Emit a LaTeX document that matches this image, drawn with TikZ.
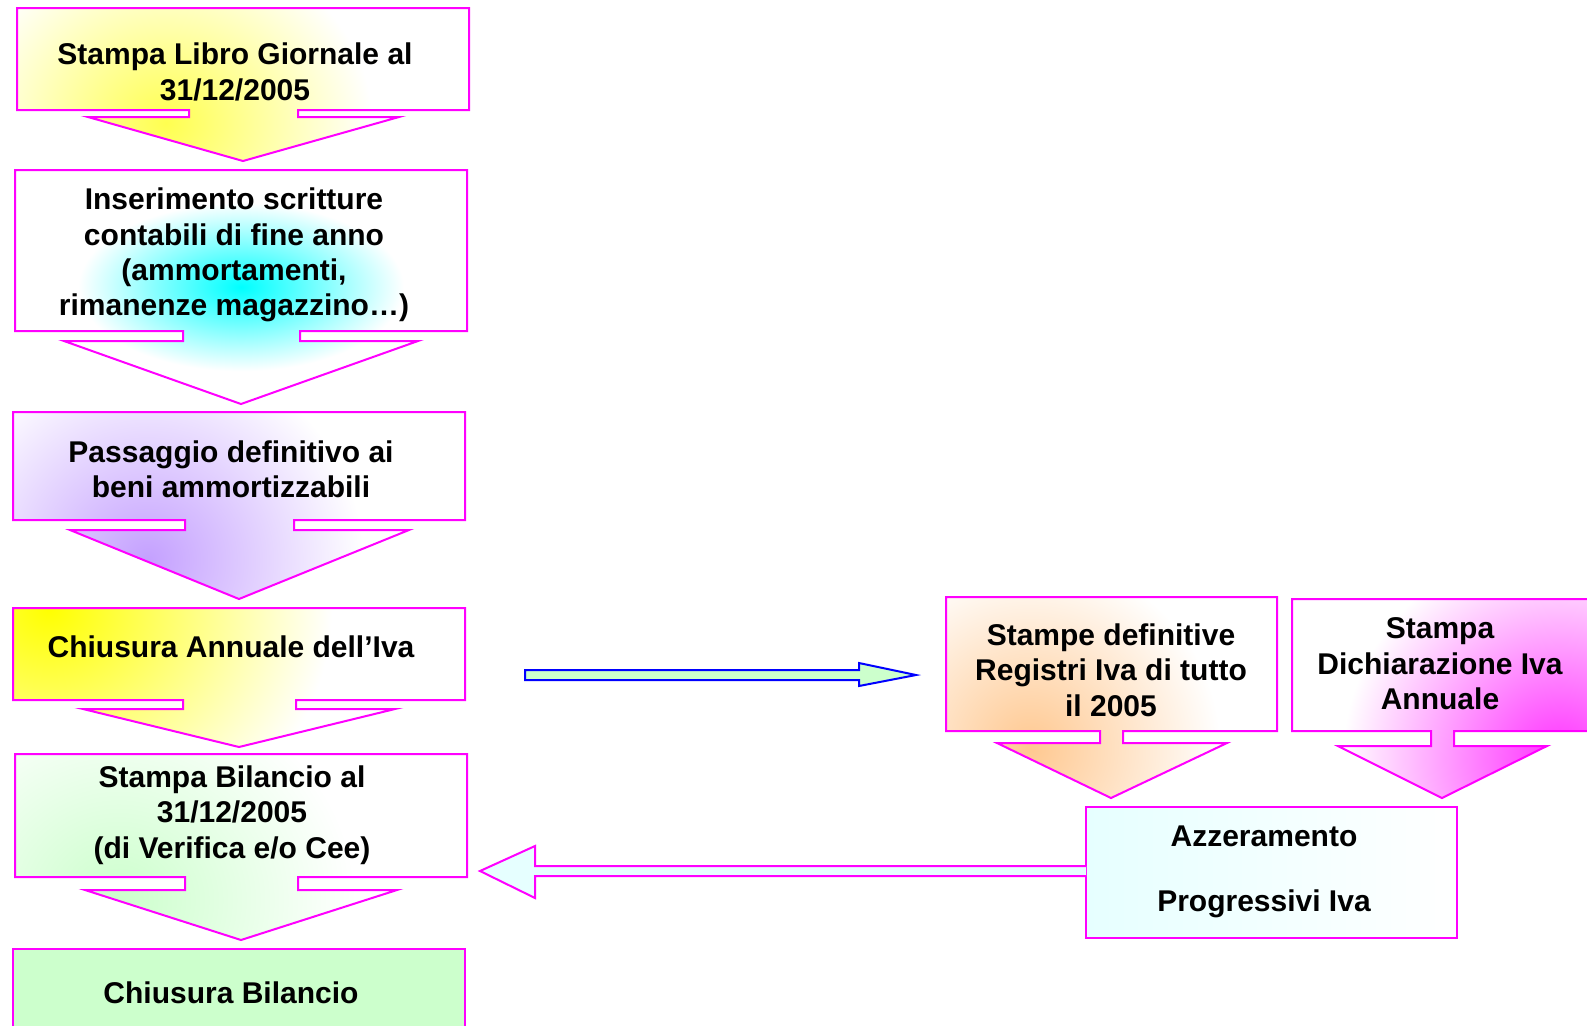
\documentclass[tikz,border=0pt]{standalone}
\usepackage{fontspec}
\setmainfont{Liberation Sans}
\definecolor{mag}{HTML}{FF00FF}
\definecolor{yel}{HTML}{FFFF50}
\definecolor{cyn}{HTML}{00FFFF}
\definecolor{lav}{HTML}{C4A0FF}
\definecolor{grn}{HTML}{CCFFCC}
\definecolor{pch}{HTML}{FFC890}
\definecolor{pnk}{HTML}{FF30FF}
\definecolor{lcy}{HTML}{E6FFFF}
\definecolor{blu}{HTML}{0000FF}
\colorlet{glowin}{yellow}
\pgfdeclareradialshading{cyanrad}{\pgfpoint{0bp}{0bp}}{color(0bp)=(cyn); color(18bp)=(white); color(50bp)=(white)}
\pgfdeclareradialshading[glowin]{glowshade}{\pgfpoint{0bp}{0bp}}{color(0bp)=(glowin); color(17bp)=(white); color(50bp)=(white)}
\begin{document}
\begin{tikzpicture}[x=0.5pt,y=-0.5pt]
\tikzset{
  outl/.style={draw=mag, line width=1pt, line join=miter},
  txt/.style={font=\fontsize{15}{17.7}\selectfont\bfseries, align=center, inner sep=0pt, text=black},
  glow/.style n args={4}{fill=white, path picture={\colorlet{glowin}{#1}\shade[shading=glowshade] (#2,#3) circle (#4);}}
}
\clip (0,0) rectangle (1587,1025);
\fill[white] (0,0) rectangle (1587,1025);
% box 1
\filldraw[outl, glow={yel}{133}{123}{270}]
 (17,8) -- (469,8) -- (469,110) -- (298,110) -- (298,117) -- (399,117) -- (243,161)
 -- (88,117) -- (189,117) -- (189,110) -- (17,110) -- cycle;
\node[txt] (t1) at (235,72) {Stampa Libro Giornale al\\31/12/2005};
% box 2
\shade[outl, shading=cyanrad]
 (15,170) -- (467,170) -- (467,331) -- (300,331) -- (300,341) -- (418,341) -- (241,404)
 -- (64,341) -- (183,341) -- (183,331) -- (15,331) -- cycle;
\node[txt] (t2) at (234,255) {Inserimento scritture\\contabili di fine anno\\(ammortamenti,\\rimanenze magazzino…)};
% box 3
\filldraw[outl, glow={lav}{140}{560}{310}]
 (13,412) -- (465,412) -- (465,520) -- (294,520) -- (294,530) -- (409,530) -- (239,599)
 -- (70,530) -- (185,530) -- (185,520) -- (13,520) -- cycle;
\node[txt] (t3) at (231,469) {Passaggio definitivo ai\\beni ammortizzabili};
% box 4
\filldraw[outl, glow={yellow}{13}{608}{380}]
 (13,608) -- (465,608) -- (465,700) -- (296,700) -- (296,709) -- (395,709) -- (239,747)
 -- (83,709) -- (183,709) -- (183,700) -- (13,700) -- cycle;
\node[txt] (t4) at (231,647) {Chiusura Annuale dell’Iva};
% box 5
\filldraw[outl, glow={grn}{90}{900}{320}]
 (15,754) -- (467,754) -- (467,877) -- (298,877) -- (298,890) -- (397,890) -- (241,940)
 -- (85,890) -- (185,890) -- (185,877) -- (15,877) -- cycle;
\node[txt] (t5) at (232,815) {Stampa Bilancio al\\31/12/2005\\(di Verifica e/o Cee)};
% box 6
\filldraw[outl, fill=grn] (13,949) rectangle (465,1040);
\node[txt] (t6) at (231,993) {Chiusura Bilancio};
% blue block arrow
\filldraw[draw=blu, line width=1pt, fill=grn, line join=miter]
 (525,670) -- (859,670) -- (859,663) -- (916,675) -- (859,686) -- (859,680) -- (525,680) -- cycle;
% box 7
\filldraw[outl, glow={pch}{1030}{748}{280}]
 (946,597) -- (1277,597) -- (1277,731) -- (1123,731) -- (1123,743) -- (1227,743) -- (1111,798)
 -- (997,743) -- (1100,743) -- (1100,731) -- (946,731) -- cycle;
\node[txt] (t7) at (1111,670) {Stampe definitive\\Registri Iva di tutto\\il 2005};
% box 8
\filldraw[outl, glow={pnk}{1560}{760}{320}]
 (1292,599) -- (1620,599) -- (1620,731) -- (1454,731) -- (1454,746) -- (1547,746) -- (1442,798)
 -- (1338,746) -- (1431,746) -- (1431,731) -- (1292,731) -- cycle;
\node[txt] (t8) at (1440,664) {Stampa\\Dichiarazione Iva\\Annuale};
% box 9
\shade[outl, left color=lcy, right color=white] (1086,807) rectangle (1457,938);
\node[txt] (t9) at (1264,872) {Azzeramento\\[14.8pt]Progressivi Iva};
% left block arrow
\filldraw[outl, fill=lcy]
 (1086,866) -- (535,866) -- (535,846) -- (480,871) -- (535,898) -- (535,876) -- (1086,876);
\end{tikzpicture}
\end{document}
